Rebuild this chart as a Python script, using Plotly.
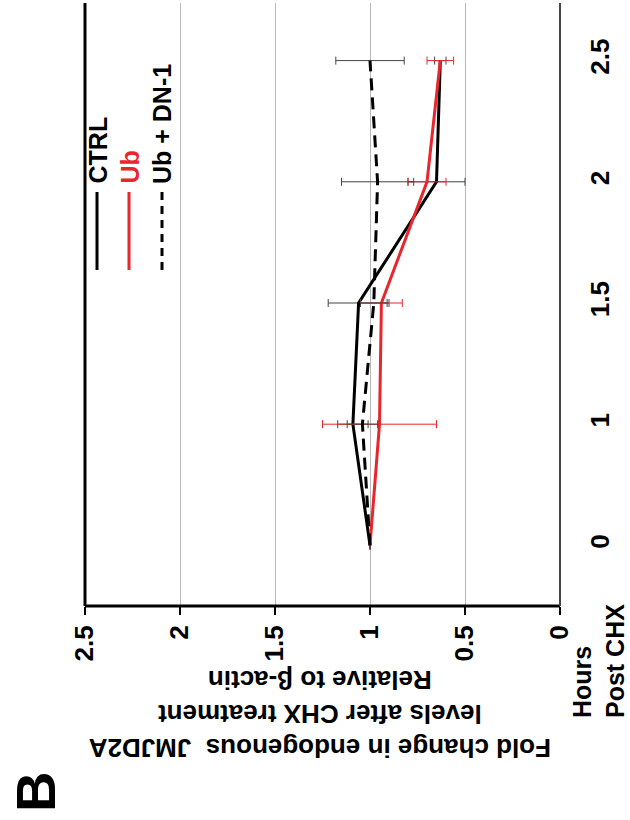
import plotly.graph_objects as go

# ---------------- data ----------------
hours = ["0", "1", "1.5", "2", "2.5"]
ctrl = [1.00, 1.09, 1.06, 0.65, 0.63]
ctrl_err = [0.0, 0.08, 0.16, 0.15, 0.03]
ub = [1.00, 0.95, 0.94, 0.70, 0.63]
ub_err = [0.0, 0.30, 0.11, 0.10, 0.07]
dn1 = [1.00, 1.04, 0.98, 0.96, 1.00]
dn1_err = [0.0, 0.08, 0.07, 0.19, 0.18]
fold_ticks = [0, 0.5, 1, 1.5, 2, 2.5]
series_names = ["CTRL", "Ub", "Ub + DN-1"]

# ---------------- layout constants ----------------
W, H = 630, 820
L, R, T, B = 85, 560, 0, 606
FONT = "Liberation Sans, Arial, sans-serif"


def px(x):
    return (x - L) / (R - L)


def py(y):
    return (B - y) / (B - T)


fig = go.Figure()

fig.add_trace(go.Scatter(
    x=ctrl, y=hours, mode="lines", name=series_names[0],
    line=dict(color="black", width=3),
    error_x=dict(type="data", array=ctrl_err, color="#444444", thickness=1, width=4),
))
fig.add_trace(go.Scatter(
    x=ub, y=hours, mode="lines", name=series_names[1],
    line=dict(color="#e8262b", width=3),
    error_x=dict(type="data", array=ub_err, color="#e8262b", thickness=1, width=4),
))
fig.add_trace(go.Scatter(
    x=dn1, y=hours, mode="lines", name=series_names[2],
    line=dict(color="black", width=3, dash="12px,7px"),
    error_x=dict(type="data", array=dn1_err, color="#444444", thickness=1, width=4),
))

fig.update_layout(
    template="none",
    width=W, height=H,
    margin=dict(l=L, r=W - R, t=T, b=H - B, pad=0),
    paper_bgcolor="white", plot_bgcolor="white",
    showlegend=False,
    font=dict(family=FONT, color="black"),
    xaxis=dict(
        range=[2.5, 0], tickvals=fold_ticks, ticktext=[str(v) for v in fold_ticks],
        tickangle=-90, tickfont=dict(size=26, family=FONT, weight="bold"),
        showgrid=True, gridcolor="#b8b8b8", gridwidth=1,
        showline=False, mirror=False,
        ticks="outside", ticklen=8, tickwidth=2, tickcolor="black",
        zeroline=False,
    ),
    yaxis=dict(
        type="category", categoryorder="array", categoryarray=hours,
        range=[-0.5, 4.5], side="right", mirror=False,
        tickangle=-90, tickfont=dict(size=26, family=FONT, weight="bold"),
        showgrid=False, showline=False, ticks="", zeroline=False,
        ticklabelstandoff=22,
    ),
)

# the reference is cropped at the top: hide the top edge of the plot box
fig.add_shape(type="rect", xref="paper", yref="paper", x0=-0.02, x1=1.02,
              y0=py(3), y1=1.01, fillcolor="white", line=dict(width=0),
              layer="above")

# plot box lines (bottom, left, right; top is cropped in the reference)
fig.add_shape(type="line", xref="paper", yref="paper", x0=0, x1=1, y0=0, y1=0,
              line=dict(color="black", width=3))
fig.add_shape(type="line", xref="paper", yref="paper", x0=0, x1=0, y0=0, y1=py(3),
              line=dict(color="black", width=3))
fig.add_shape(type="line", xref="paper", yref="paper", x0=1, x1=1, y0=0, y1=py(3),
              line=dict(color="#444444", width=2))

# legend (rotated)
leg_colors = ["black", "#e8262b", "black"]
leg_dash = ["solid", "solid", "8px,6px"]
leg_x = [97, 129, 162]
for name, c, d, lx in zip(series_names, leg_colors, leg_dash, leg_x):
    fig.add_shape(type="line", xref="paper", yref="paper",
                  x0=px(lx), x1=px(lx), y0=py(192), y1=py(270),
                  line=dict(color=c, width=3, dash=d))
    fig.add_annotation(text=name, xref="paper", yref="paper",
                       x=px(lx), y=py(186), xanchor="center", yanchor="bottom",
                       textangle=-90, showarrow=False,
                       font=dict(size=25, color=c, family=FONT, weight="bold"))

# value-axis title (upside down)
fig.add_annotation(
    text="Fold change in endogenous&nbsp;&nbsp;JMJD2A<br>levels after CHX treatment<br>Relative to β-actin",
    xref="paper", yref="paper", x=px(320), y=py(714),
    xanchor="center", yanchor="middle", textangle=180, showarrow=False,
    font=dict(size=26, family=FONT, weight="bold"),
)

# hours axis title
fig.add_annotation(
    text="Hours<br>Post CHX", xref="paper", yref="paper",
    x=px(598), y=py(720), xanchor="center", yanchor="bottom", align="left",
    textangle=-90, showarrow=False,
    font=dict(size=25, family=FONT, weight="bold"),
)

# panel letter
fig.add_annotation(
    text="B", xref="paper", yref="paper", x=px(35), y=py(792),
    xanchor="center", yanchor="middle", textangle=-90, showarrow=False,
    font=dict(size=56, family=FONT, weight="bold"),
)

fig.write_html("out.html")
